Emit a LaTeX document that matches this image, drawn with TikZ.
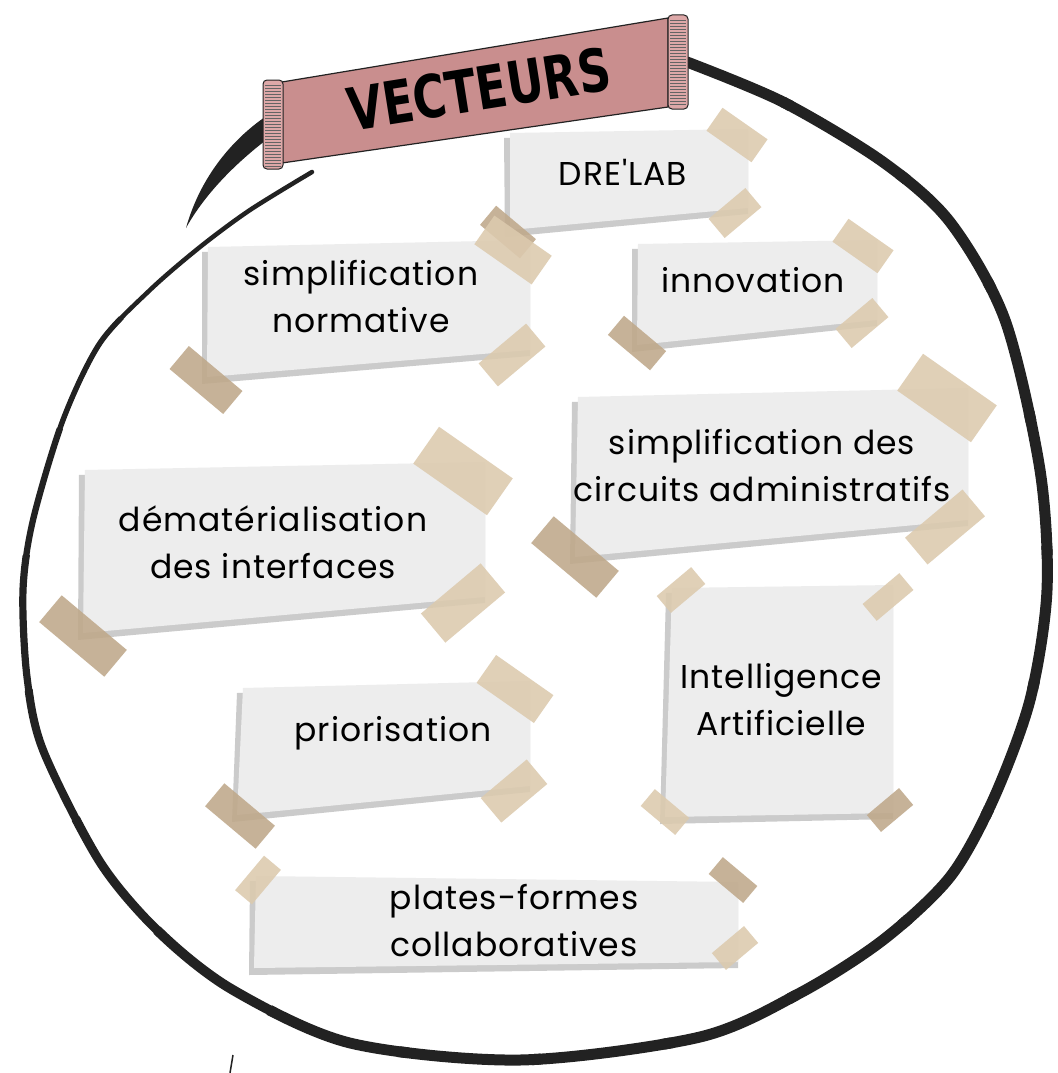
\documentclass[tikz,border=0pt]{standalone}
\usepackage{fontspec}
\setmainfont{Poppins}[LetterSpace=3]
\newfontfamily\nomapfont{Poppins}[LetterSpace=3]
\newfontfamily\titlefont{DejaVu Sans}
\definecolor{ink}{HTML}{222222}
\definecolor{bannerpink}{HTML}{C98E8E}
\definecolor{rollpink}{HTML}{DDA8A8}
\definecolor{paperc}{HTML}{EDEDED}
\definecolor{shadowc}{HTML}{CBCBCB}
\definecolor{tapelight}{HTML}{DCCAAE}
\definecolor{tapedark}{HTML}{BFA88A}
\newcommand\notepaper[8]{%
  \fill[shadowc] ({#1-6},{#2+5}) -- (#3,{#4+2}) -- (#5,{#6+6}) -- ({#7-5},{#8+7}) -- cycle;
  \fill[paperc] (#1,#2) -- (#3,#4) -- (#5,#6) -- (#7,#8) -- cycle;}
\newcommand\tapepiece[6]{\node[#1,minimum width=#4pt,minimum height=#5pt,rotate=#6] (#2) at (#3) {};}
\newcommand\ringpath{plot[smooth] coordinates {(312,172) (250,210) (200,247) (150,290) (100,343) (63,420) (33,520) (23,590) (27,677) (43,750) (100,862) (160,933) (233,990) (350,1043) (520,1060) (700,1037) (800,993) (883,940) (950,877) (993,800) (1030,700) (1047,590) (1040,470) (1005,320) (950,222) (883,162) (783,102) (687,62)}}
\begin{document}
\begin{tikzpicture}[x=1pt,y=-1pt,
  ring/.style={draw=ink,line cap=round,line join=round},
  tapelt/.style={fill=tapelight,fill opacity=0.88,draw=none,inner sep=0pt,rectangle},
  tapedk/.style={fill=tapedark,fill opacity=0.88,draw=none,inner sep=0pt,rectangle},
  notetext/.style={font=\fontsize{33}{47}\selectfont,align=center,text=black,inner sep=0pt}]
\useasboundingbox (0,0) rectangle (1057,1073);
\fill[white] (0,0) rectangle (1057,1073);

% hand-drawn ring, thin at its start and growing thicker along its course
\draw[ring,line width=4.5pt] \ringpath;
\foreach \a in {150,165,...,435}{
  \pgfmathsetmacro\ringw{min(11,4.5+(\a-135)*0.06)}
  \begin{scope}
    \clip (532,555) -- +(-\a:1600) -- +({-\a-16}:1600) -- cycle;
    \draw[ring,line width=\ringw pt] \ringpath;
  \end{scope}
}
\fill[ink] (271,113) .. controls (232,138) and (200,178) .. (186,228)
  .. controls (206,192) and (240,158) .. (281,129) -- cycle;
\draw[ink,line width=1.5pt] (233,1055) -- (230,1073);

% banner
\filldraw[fill=bannerpink,draw=ink,line width=1.2pt] (282,82) -- (668,18) -- (668,107) -- (282,163) -- cycle;
\filldraw[fill=rollpink,draw=ink,line width=1pt,rounded corners=4pt] (263,80) rectangle (283,169);
\foreach \yy in {85,88,...,166} \draw[ink!70,line width=0.6pt] (265,\yy) -- (281,\yy);
\filldraw[fill=rollpink,draw=ink,line width=1pt,rounded corners=4pt] (668,15) rectangle (688,109);
\foreach \yy in {20,23,...,106} \draw[ink!70,line width=0.6pt] (670,\yy) -- (686,\yy);
\node[rotate=9,inner sep=0pt] (title) at (479,89) {\resizebox{265pt}{44pt}{\titlefont\bfseries VECTEURS}};

% papers
\notepaper{510}{133}{748}{129}{748}{208}{510}{230}
\notepaper{208}{247}{530}{240}{530}{350}{207}{377}
\notepaper{638}{244}{877}{240}{877}{320}{637}{345}
\notepaper{578}{397}{968}{388}{968}{520}{575}{557}
\notepaper{85}{470}{485}{462}{485}{597}{83}{633}
\notepaper{243}{688}{530}{681}{530}{786}{237}{815}
\notepaper{672}{588}{893}{585}{893}{813}{665}{817}
\notepaper{256}{876}{738}{882}{738}{962}{254}{968}

% texts
\node[notetext,font=\nomapfont\fontsize{33}{47}\selectfont] (drelab) at (623,172) {DRE'LAB};
\node[notetext] (simpnorm) at (361,297) {simplification\\normative};
\node[notetext] (innov) at (753,280) {innovation};
\node[notetext] (circuits) at (762,466) {simplification des\\circuits administratifs};
\node[notetext] (demat) at (273,542) {dématérialisation\\des interfaces};
\node[notetext] (prior) at (393,733) {priorisation};
\node[notetext] (ia) at (781,700) {Intelligence\\Artificielle};
\node[notetext] (plates) at (514,921) {plates-formes\\collaboratives};

% tapes
\tapepiece{tapelt}{t1}{737,135}{55}{28}{-35}
\tapepiece{tapelt}{t2}{735,213}{48}{25}{40}
\tapepiece{tapedk}{t3}{508,232}{52}{25}{-40}
\tapepiece{tapelt}{t4}{513,250}{70}{35}{-35}
\tapepiece{tapelt}{t5}{512,355}{62}{30}{40}
\tapepiece{tapedk}{t6}{206,380}{70}{30}{-40}
\tapepiece{tapelt}{t7}{863,246}{55}{28}{-35}
\tapepiece{tapelt}{t8}{862,323}{48}{25}{40}
\tapepiece{tapedk}{t9}{637,343}{55}{25}{-40}
\tapepiece{tapelt}{t10}{947,398}{90}{45}{-35}
\tapepiece{tapelt}{t11}{945,527}{75}{35}{40}
\tapepiece{tapedk}{t12}{575,557}{85}{35}{-40}
\tapepiece{tapelt}{t13}{463,471}{90}{45}{-35}
\tapepiece{tapelt}{t14}{463,603}{78}{38}{40}
\tapepiece{tapedk}{t15}{83,636}{85}{35}{-40}
\tapepiece{tapelt}{t16}{515,689}{70}{34}{-35}
\tapepiece{tapelt}{t17}{514,791}{60}{32}{40}
\tapepiece{tapedk}{t18}{240,816}{66}{30}{-40}
\tapepiece{tapelt}{t19}{681,590}{45}{22}{40}
\tapepiece{tapelt}{t20}{888,597}{48}{22}{40}
\tapepiece{tapelt}{t21}{665,812}{45}{22}{-40}
\tapepiece{tapedk}{t22}{890,810}{42}{22}{40}
\tapepiece{tapelt}{t23}{258,880}{45}{22}{50}
\tapepiece{tapedk}{t24}{733,880}{45}{22}{-40}
\tapepiece{tapelt}{t25}{735,948}{42}{22}{40}
\end{tikzpicture}
\end{document}
